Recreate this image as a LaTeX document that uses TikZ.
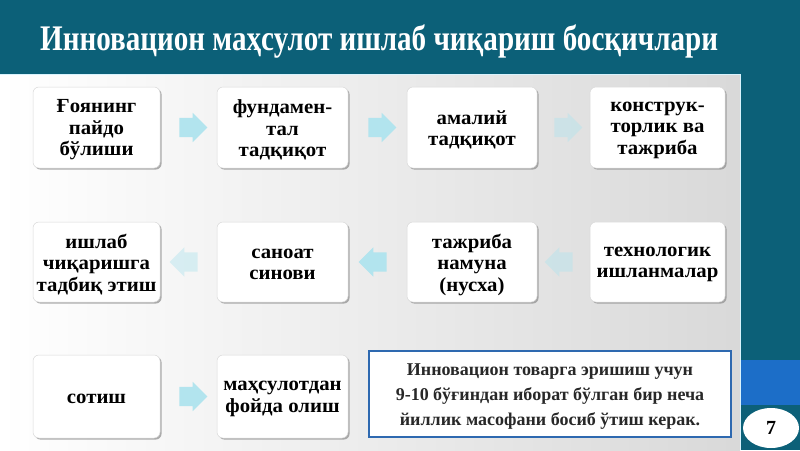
\documentclass[tikz,border=0pt]{standalone}
\usepackage{graphicx}
\usepackage{fontspec}
\setmainfont{Liberation Serif}
\newfontfamily\boxfont[FakeStretch=1.04]{Liberation Serif}
\usetikzlibrary{shapes.arrows,shapes.geometric,shadows,calc}
\definecolor{tealbg}{RGB}{12,96,120}
\definecolor{bandblue}{RGB}{28,110,200}
\definecolor{arrowc}{RGB}{178,228,238}
\definecolor{noteborder}{RGB}{46,105,176}
\definecolor{notetext}{RGB}{40,40,40}
\begin{document}
\begin{tikzpicture}[x=1pt,y=-1pt,
  stepbox/.style={draw=black!15, line width=0.5pt, fill=white, rounded corners=6pt,
    minimum width=130pt, minimum height=80pt, align=center, inner sep=2pt,
    drop shadow={shadow xshift=1.6pt, shadow yshift=-1.6pt, fill=black!45, opacity=0.7}},
  steptext/.style={align=center, inner sep=0pt,
    font=\boxfont\bfseries\fontsize{20}{21.5}\selectfont, text=black},
  blockarr/.style={single arrow, fill=arrowc, draw=none, minimum height=28pt,
    single arrow head extend=5pt, inner sep=0pt},
  leftarr/.style={blockarr, shape border rotate=180}]
\useasboundingbox (0,0) rectangle (800,450);
% background
\fill[tealbg] (0,0) rectangle (800,450);
\shade[left color=white, right color=black!15] (0,74) rectangle (740,450);
\draw[cyan!15, line width=0.8pt] (0,74) -- (740,74) -- (740,450);
\fill[bandblue] (741,360) rectangle (800,405);
% title
\node[anchor=west, text=white, inner sep=0pt,
  font=\bfseries\fontsize{36}{36}\selectfont] (title) at (40,41)
  {\resizebox{678pt}{\height}{Инновацион маҳсулот ишлаб чиқариш босқичлари}};
% boxes
\node[stepbox, minimum width=127pt, minimum height=81pt] (b1) at (96.5,127.5) {};
\node[stepbox, minimum width=131pt, minimum height=81pt] (b2) at (282.5,127.5) {};
\node[stepbox, minimum width=130pt, minimum height=81pt] (b3) at (472,127.5) {};
\node[stepbox, minimum width=135pt, minimum height=81pt] (b4) at (657.5,127.5) {};
\node[stepbox, minimum width=127pt] (b5) at (96.5,262) {};
\node[stepbox, minimum width=131pt] (b6) at (282.5,262) {};
\node[stepbox, minimum width=130pt] (b7) at (472,262) {};
\node[stepbox, minimum width=135pt] (b8) at (657.5,262) {};
\node[stepbox, minimum width=127pt, minimum height=83pt] (b9) at (96.5,396.5) {};
\node[stepbox, minimum width=131pt, minimum height=83pt] (b10) at (282.5,396.5) {};
% box texts
\node[steptext] (t1) at ([yshift=-2.5pt]b1.center) {Ғоянинг\\пайдо\\бўлиши};
\node[steptext] (t2) at ([yshift=-2.5pt]b2.center) {фундамен-\\тал\\тадқиқот};
\node[steptext] (t3) at ([yshift=-2.5pt]b3.center) {амалий\\тадқиқот};
\node[steptext] (t4) at ([yshift=-2.5pt]b4.center) {конструк-\\торлик ва\\тажриба};
\node[steptext] (t5) at ([yshift=-2.5pt]b5.center) {ишлаб\\чиқаришга\\тадбиқ этиш};
\node[steptext] (t6) at ([yshift=-2.5pt]b6.center) {саноат\\синови};
\node[steptext] (t7) at ([yshift=-2.5pt]b7.center) {тажриба\\намуна\\(нусха)};
\node[steptext] (t8) at ([yshift=-2.5pt]b8.center) {технологик\\ишланмалар};
\node[steptext] (t9) at ([yshift=-2.5pt]b9.center) {сотиш};
\node[steptext] (t10) at ([yshift=-2.5pt]b10.center) {маҳсулотдан\\фойда олиш};
% block arrows
\node[blockarr] (a12) at ($(b1.east)!0.5!(b2.west)$) {\rule{0pt}{19pt}};
\node[blockarr] (a23) at ($(b2.east)!0.5!(b3.west)$) {\rule{0pt}{19pt}};
\node[blockarr, opacity=0.45] (a34) at ($(b3.east)!0.5!(b4.west)$) {\rule{0pt}{19pt}};
\node[leftarr, opacity=0.45] (a87) at ($(b8.west)!0.5!(b7.east)$) {\rule{0pt}{19pt}};
\node[leftarr] (a76) at ($(b7.west)!0.5!(b6.east)$) {\rule{0pt}{19pt}};
\node[leftarr, opacity=0.45] (a65) at ($(b6.west)!0.5!(b5.east)$) {\rule{0pt}{19pt}};
\node[blockarr] (a910) at ($(b9.east)!0.5!(b10.west)$) {\rule{0pt}{19pt}};
% note
\node[draw=noteborder, line width=1.5pt, fill=white, minimum width=362pt, minimum height=86pt] (note) at (550,394) {};
\node[align=center, inner sep=0pt, text=notetext, font=\bfseries\fontsize{18}{25}\selectfont] (notetxt)
  at ([yshift=-3pt]note.center)
  {Инновацион товарга эришиш учун\\9-10 бўғиндан иборат бўлган бир неча\\йиллик масофани босиб ўтиш керак.};
% page number
\node[ellipse, fill=white, minimum width=56pt, minimum height=40pt, inner sep=0pt,
  font=\bfseries\fontsize{20}{20}\selectfont] (pg) at (771,428) {7};
\end{tikzpicture}
\end{document}
